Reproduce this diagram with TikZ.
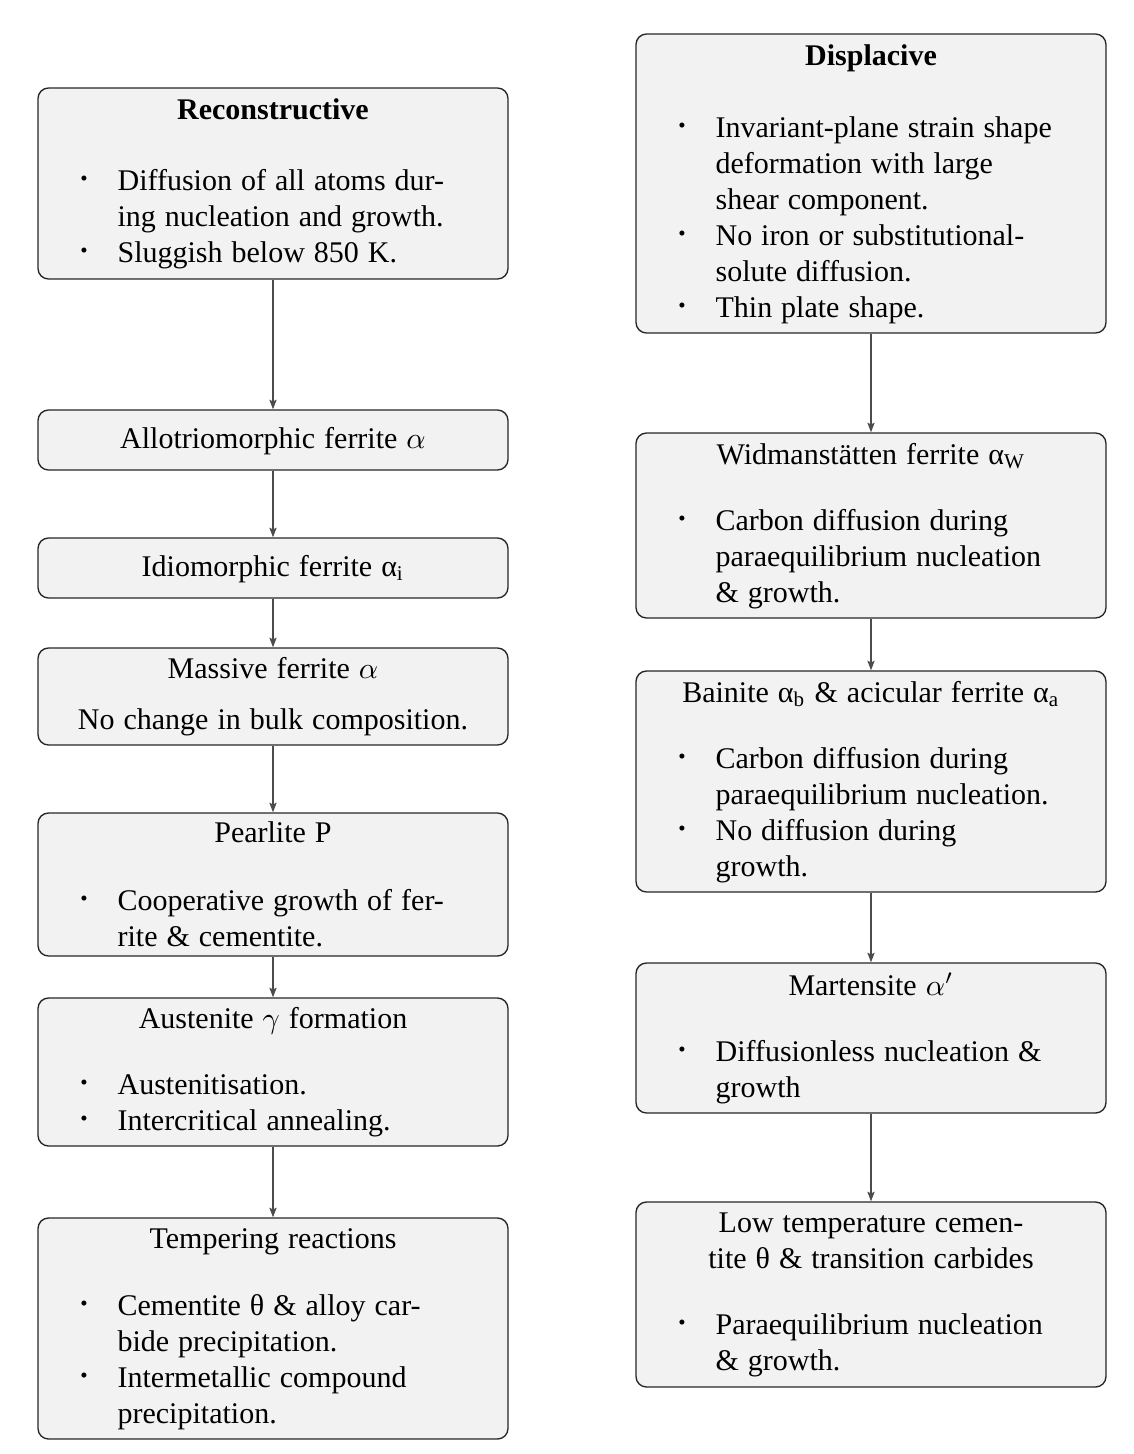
\documentclass[tikz,border=0pt]{standalone}
\usepackage{fontspec}
\setmainfont[WordSpace={1.2,1,1}]{Liberation Serif}
\usetikzlibrary{fit,arrows.meta}
\begin{document}
\begin{tikzpicture}[x=0.33333pt,y=-0.33333pt,
  box/.style={draw=black!85,line width=0.45pt,fill=black!5,rounded corners=3.5pt,inner sep=0pt},
  ln/.style={anchor=base west,inner sep=0pt,font=\fontsize{10}{12}\selectfont},
  ttl/.style={anchor=base,inner sep=0pt,font=\fontsize{10}{12}\selectfont},
  bul/.style={anchor=center,inner sep=0pt,font=\fontsize{7}{8}\selectfont},
  conn/.style={draw=black!70,line width=0.45pt,-{Stealth[length=3.2pt,width=2.4pt,inset=0.6pt]}}]
\useasboundingbox (0,0) rectangle (1134,1454);

% ---------- left column ----------
\node[box,fit={(38,88) (508,279)}] (L1) {};
\node[ttl,font=\fontsize{10}{12}\selectfont\bfseries] (L1t) at (273,119) {Reconstructive};
\node[bul] (L1b1) at (84,181) {•};
\node[ln] (L1a) at (117,190) {Diffusion of all atoms dur-};
\node[ln] (L1b) at (117,226) {ing nucleation and growth.};
\node[bul] (L1b2) at (84,253) {•};
\node[ln] (L1c) at (117,262) {Sluggish below 850 K.};

\node[box,fit={(38,410) (508,470)}] (L2) {};
\node[ttl] (L2t) at (273,448) {Allotriomorphic ferrite $\alpha$};

\node[box,fit={(38,538) (508,598)}] (L3) {};
\node[ttl] (L3t) at (273,576) {Idiomorphic ferrite α\textsubscript{i}};

\node[box,fit={(38,648) (508,745)}] (L4) {};
\node[ttl] (L4t) at (273,678) {Massive ferrite $\alpha$};
\node[ttl] (L4a) at (273,729) {No change in bulk composition.};

\node[box,fit={(38,813) (508,956)}] (L5) {};
\node[ttl] (L5t) at (273,842) {Pearlite P};
\node[bul] (L5b1) at (84,901) {•};
\node[ln] (L5a) at (117,910) {Cooperative growth of fer-};
\node[ln] (L5b) at (117,946) {rite \& cementite.};

\node[box,fit={(38,998) (508,1146)}] (L6) {};
\node[ttl] (L6t) at (273,1028) {Austenite $\gamma$ formation};
\node[bul] (L6b1) at (84,1085) {•};
\node[ln] (L6a) at (117,1094) {Austenitisation.};
\node[bul] (L6b2) at (84,1121) {•};
\node[ln] (L6b) at (117,1130) {Intercritical annealing.};

\node[box,fit={(38,1218) (508,1439)}] (L7) {};
\node[ttl] (L7t) at (273,1248) {Tempering reactions};
\node[bul] (L7b1) at (84,1306) {•};
\node[ln] (L7a) at (117,1315) {Cementite θ \& alloy car-};
\node[ln] (L7b) at (117,1351) {bide precipitation.};
\node[bul] (L7b2) at (84,1378) {•};
\node[ln] (L7c) at (117,1387) {Intermetallic compound};
\node[ln] (L7d) at (117,1423) {precipitation.};

% ---------- right column ----------
\node[box,fit={(636,34) (1106,333)}] (R1) {};
\node[ttl,font=\fontsize{10}{12}\selectfont\bfseries] (R1t) at (871,65) {Displacive};
\node[bul] (R1b1) at (682,128) {•};
\node[ln] (R1a) at (715,137) {Invariant-plane strain shape};
\node[ln] (R1b) at (715,173) {deformation with large};
\node[ln] (R1c) at (715,209) {shear component.};
\node[bul] (R1b2) at (682,236) {•};
\node[ln] (R1d) at (715,245) {No iron or substitutional-};
\node[ln] (R1e) at (715,281) {solute diffusion.};
\node[bul] (R1b3) at (682,308) {•};
\node[ln] (R1f) at (715,317) {Thin plate shape.};

\node[box,fit={(636,433) (1106,618)}] (R2) {};
\node[ttl] (R2t) at (871,464) {Widmanstätten ferrite α\textsubscript{W}};
\node[bul] (R2b1) at (682,521) {•};
\node[ln] (R2a) at (715,530) {Carbon diffusion during};
\node[ln] (R2b) at (715,566) {paraequilibrium nucleation};
\node[ln] (R2c) at (715,602) {\& growth.};

\node[box,fit={(636,671) (1106,892)}] (R3) {};
\node[ttl] (R3t) at (871,702) {Bainite α\textsubscript{b} \& acicular ferrite α\textsubscript{a}};
\node[bul] (R3b1) at (682,759) {•};
\node[ln] (R3a) at (715,768) {Carbon diffusion during};
\node[ln] (R3b) at (715,804) {paraequilibrium nucleation.};
\node[bul] (R3b2) at (682,831) {•};
\node[ln] (R3c) at (715,840) {No diffusion during};
\node[ln] (R3d) at (715,876) {growth.};

\node[box,fit={(636,963) (1106,1113)}] (R4) {};
\node[ttl] (R4t) at (871,995) {Martensite $\alpha'$};
\node[bul] (R4b1) at (682,1052) {•};
\node[ln] (R4a) at (715,1061) {Diffusionless nucleation \&};
\node[ln] (R4b) at (715,1097) {growth};

\node[box,fit={(636,1202) (1106,1387)}] (R5) {};
\node[ttl] (R5t) at (871,1232) {Low temperature cemen-};
\node[ttl] (R5u) at (871,1268) {tite θ \& transition carbides};
\node[bul] (R5b1) at (682,1325) {•};
\node[ln] (R5a) at (715,1334) {Paraequilibrium nucleation};
\node[ln] (R5b) at (715,1370) {\& growth.};

% ---------- connectors ----------
\foreach \a/\b in {L1/L2,L2/L3,L3/L4,L4/L5,L5/L6,L6/L7,R1/R2,R2/R3,R3/R4,R4/R5}
  \draw[conn] (\a.south) -- (\b.north);
\end{tikzpicture}
\end{document}
